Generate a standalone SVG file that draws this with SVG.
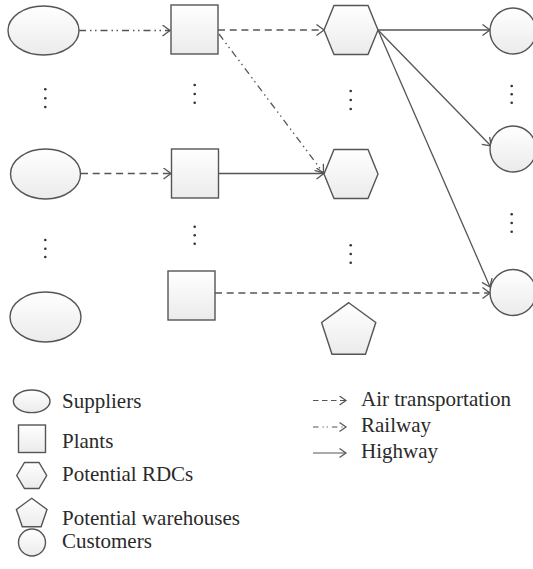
<svg xmlns="http://www.w3.org/2000/svg" width="533" height="569" viewBox="0 0 533 569">
<defs>
<linearGradient id="g" x1="0" y1="0" x2="0" y2="1">
<stop offset="0" stop-color="#ffffff"/>
<stop offset="1" stop-color="#ebebeb"/>
</linearGradient>
<marker id="arr" markerUnits="userSpaceOnUse" markerWidth="12" markerHeight="14" refX="8" refY="6" orient="auto">
<path d="M0.5,0.5 L8,6 L0.5,11.5" fill="none" stroke="#555" stroke-width="1.3"/>
</marker>
<marker id="sarr" markerUnits="userSpaceOnUse" markerWidth="10" markerHeight="12" refX="7" refY="5" orient="auto">
<path d="M0.5,0.5 L7,5 L0.5,9.5" fill="none" stroke="#555" stroke-width="1.2"/>
</marker>
</defs>
<style>
.n{fill:url(#g);stroke:#555;stroke-width:1.4}
.c{fill:none;stroke:#555;stroke-width:1.3;marker-end:url(#arr)}
.air{stroke-dasharray:7 4.7}
.rail{stroke-dasharray:7 4 1.5 3.5 1.5 4}
.d{fill:#333}
.t{font-family:"Liberation Serif","Times New Roman",serif;font-size:21px;fill:#2a2a2a}
.lg{fill:none;stroke:#555;stroke-width:1.2;marker-end:url(#sarr)}
</style>

<g id="connectors">
<line class="c rail" x1="79" y1="30.5" x2="170" y2="30.5"/>
<line class="c air" x1="218" y1="30" x2="324" y2="30"/>
<line class="c rail" x1="219" y1="34" x2="323.5" y2="173"/>
<line class="c air" x1="81" y1="173.5" x2="171" y2="173.5"/>
<line class="c" x1="218.7" y1="173.5" x2="324" y2="173.5"/>
<line class="c" x1="378" y1="30" x2="490" y2="30"/>
<line class="c" x1="378" y1="30" x2="491" y2="146"/>
<line class="c" x1="378" y1="30" x2="490" y2="287"/>
<line class="c air" x1="215" y1="293" x2="490" y2="293"/>
</g>

<g id="supplier1"><ellipse class="n" cx="43.5" cy="30.5" rx="35.5" ry="24.5"/></g>
<g id="supplier2"><ellipse class="n" cx="45.5" cy="174" rx="35" ry="25"/></g>
<g id="supplier3"><ellipse class="n" cx="45.5" cy="317" rx="35.5" ry="25"/></g>

<g id="plant1"><rect class="n" x="171" y="5" width="47" height="49"/></g>
<g id="plant2"><rect class="n" x="171.5" y="149" width="47" height="49"/></g>
<g id="plant3"><rect class="n" x="168" y="271" width="47" height="49"/></g>

<g id="rdc1"><polygon class="n" points="324,30 334,5.5 368,5.5 378,30 368,54.5 334,54.5"/></g>
<g id="rdc2"><polygon class="n" points="324,174 334,149.5 368,149.5 378,174 368,198.5 334,198.5"/></g>

<g id="warehouse1"><polygon class="n" points="348.7,302.7 375.8,322.4 365.5,354.3 332,354.3 321.6,322.4"/></g>

<g id="customer1"><circle class="n" cx="513" cy="31" r="23"/></g>
<g id="customer2"><circle class="n" cx="513" cy="149" r="23"/></g>
<g id="customer3"><circle class="n" cx="513" cy="292.5" r="23"/></g>

<g id="dots">
<circle class="d" cx="45.3" cy="89.3" r="1.3"/><circle class="d" cx="45.3" cy="98.3" r="1.3"/><circle class="d" cx="45.3" cy="107" r="1.3"/>
<circle class="d" cx="194.7" cy="85" r="1.3"/><circle class="d" cx="194.7" cy="94" r="1.3"/><circle class="d" cx="194.7" cy="102.7" r="1.3"/>
<circle class="d" cx="350.7" cy="91" r="1.3"/><circle class="d" cx="350.7" cy="100" r="1.3"/><circle class="d" cx="350.7" cy="109" r="1.3"/>
<circle class="d" cx="511.7" cy="86" r="1.3"/><circle class="d" cx="511.7" cy="94.3" r="1.3"/><circle class="d" cx="511.7" cy="102.7" r="1.3"/>
<circle class="d" cx="45.3" cy="240" r="1.3"/><circle class="d" cx="45.3" cy="248.7" r="1.3"/><circle class="d" cx="45.3" cy="257" r="1.3"/>
<circle class="d" cx="194.7" cy="226.7" r="1.3"/><circle class="d" cx="194.7" cy="235.3" r="1.3"/><circle class="d" cx="194.7" cy="243.7" r="1.3"/>
<circle class="d" cx="350.7" cy="245.3" r="1.3"/><circle class="d" cx="350.7" cy="254" r="1.3"/><circle class="d" cx="350.7" cy="262.7" r="1.3"/>
<circle class="d" cx="511.7" cy="214.3" r="1.3"/><circle class="d" cx="511.7" cy="223" r="1.3"/><circle class="d" cx="511.7" cy="231.7" r="1.3"/>
</g>

<g id="legend">
<ellipse class="n" cx="31.7" cy="401.3" rx="18.3" ry="11.3"/>
<text class="t" x="62" y="407.5">Suppliers</text>
<rect class="n" x="18.5" y="425" width="27" height="27.5"/>
<text class="t" x="62" y="447.5">Plants</text>
<polygon class="n" points="16.7,475.5 24.5,462.5 39,462.5 46.7,475.5 39,488.5 24.5,488.5"/>
<text class="t" x="62" y="480.7">Potential RDCs</text>
<polygon class="n" points="31.7,498.3 47,509.4 41.1,526.8 22.3,526.8 16.4,509.4"/>
<text class="t" x="62" y="525">Potential warehouses</text>
<circle class="n" cx="32" cy="542.5" r="13.5"/>
<text class="t" x="62" y="548">Customers</text>

<line class="lg" x1="313" y1="400.5" x2="346" y2="400.5" stroke-dasharray="5.5 3.5"/>
<text class="t" x="361" y="405.5">Air transportation</text>
<line class="lg" x1="313" y1="427" x2="346" y2="427" stroke-dasharray="5.5 4 1.2 3 1.2 4"/>
<text class="t" x="361" y="432">Railway</text>
<line class="lg" x1="313" y1="453" x2="346" y2="453"/>
<text class="t" x="361" y="458">Highway</text>
</g>
</svg>
